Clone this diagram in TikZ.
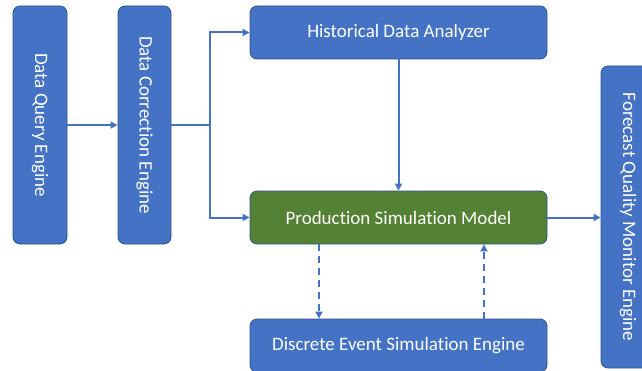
\documentclass[tikz,border=0pt]{standalone}
\usepackage{fontspec}
\setmainfont{Carlito}[Ligatures={NoCommon}]
\usetikzlibrary{arrows.meta}
\definecolor{boxblue}{HTML}{4472C4}
\definecolor{boxgreen}{HTML}{548235}
\definecolor{edge}{HTML}{2F528F}
\definecolor{arrowblue}{HTML}{4472C4}
\tikzset{
  box/.style={draw=edge, line width=0.8pt, fill=boxblue, rounded corners=7pt,
    text=white, font=\fontsize{19}{22}\selectfont, inner sep=0pt, anchor=center},
  greenbox/.style={box, fill=boxgreen},
  conn/.style={draw=arrowblue, line width=2pt},
  arr/.style={conn, -{Triangle[length=7pt,width=7pt]}},
  darr/.style={arr, dash pattern=on 7pt off 5pt},
}
\begin{document}
\begin{tikzpicture}[x=1pt,y=1pt]
\useasboundingbox (0,0) rectangle (642,370);
\node[box, minimum width=54pt, minimum height=238pt] (dqe) at (40,245) {\rotatebox{-90}{Data Query Engine}};
\node[box, minimum width=53pt, minimum height=238pt] (dce) at (144.5,245) {\rotatebox{-90}{Data Correction Engine}};
\node[box, minimum width=297pt, minimum height=53pt] (hda) at (398.5,337.5) {Historical Data Analyzer};
\node[greenbox, minimum width=297pt, minimum height=53pt] (psm) at (398.5,152.5) {Production Simulation Model};
\node[box, minimum width=297pt, minimum height=53pt] (des) at (398.5,24.5) {Discrete Event Simulation Engine};
\node[box, minimum width=54pt, minimum height=302pt] (fqm) at (628,153) {\rotatebox{-90}{Forecast Quality Monitor Engine}};
\draw[arr] (dqe) -- (dce);
\draw[conn] (dce.east) -- ++(39,0) coordinate (j);
\draw[arr] (j) |- (hda.west);
\draw[arr] (j) |- (psm.west);
\draw[arr] (hda) -- (psm);
\draw[arr] (psm.east) -- (psm.east -| fqm.west);
\draw[darr] ([xshift=-79.5pt]psm.south) -- ([xshift=-79.5pt]des.north);
\draw[darr] ([xshift=85.5pt]des.north) -- ([xshift=85.5pt]psm.south);
\end{tikzpicture}
\end{document}
